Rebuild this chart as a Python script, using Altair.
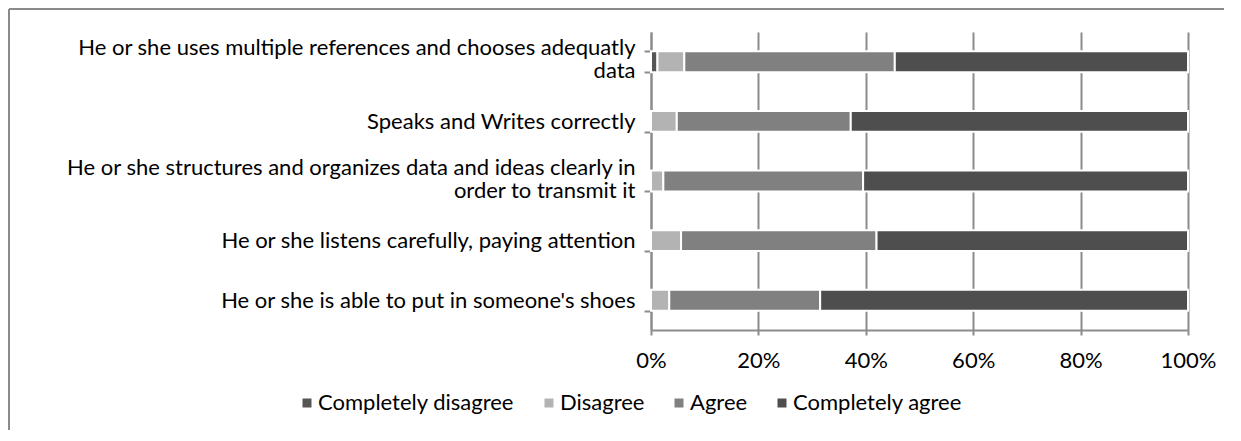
import altair as alt
import pandas as pd

categories = [
    "He or she uses multiple references and chooses adequatly\ndata",
    "Speaks and Writes correctly",
    "He or she structures and organizes data and ideas clearly in\norder to transmit it",
    "He or she listens carefully, paying attention",
    "He or she is able to put in someone's shoes",
]
levels = ["Completely disagree", "Disagree", "Agree", "Completely agree"]
completely_disagree = [1.2, 0.0, 0.0, 0.0, 0.0]
disagree = [5.0, 4.8, 2.3, 5.6, 3.4]
agree = [39.2, 32.4, 37.2, 36.4, 28.1]
completely_agree = [54.6, 62.8, 60.5, 58.0, 68.5]
colors = ["#555555", "#b3b3b3", "#808080", "#4e4e4e"]
x_ticks = [0, 0.2, 0.4, 0.6, 0.8, 1.0]

series = [completely_disagree, disagree, agree, completely_agree]
rows = []
for li, (lvl, vals) in enumerate(zip(levels, series)):
    for cat, v in zip(categories, vals):
        rows.append({"item": cat, "level": lvl, "order": li, "value": v})
df = pd.DataFrame(rows)

W, H = 537, 298
GRID = "#8c8c8c"
FONT = "Lato"
FS = 22

bars = alt.Chart(df).mark_bar(stroke="white", strokeWidth=2).encode(
    y=alt.Y(
        "item:N",
        sort=categories,
        title=None,
        scale=alt.Scale(paddingInner=0.65, paddingOuter=0.325),
        axis=alt.Axis(
            labelExpr="split(datum.label, '\\n')",
            labelFont=FONT,
            labelFontSize=FS,
            labelColor="#000000",
            labelLineHeight=23,
            labelLimit=700,
            labelPadding=9,
            labelOffset={
                "condition": {
                    "test": "indexof('' + datum.value, '\\n') >= 0",
                    "value": -14,
                },
                "value": 0,
            },
            tickBand="extent",
            tickSize=7,
            tickColor=GRID,
            tickWidth=2,
            domainColor=GRID,
            domainWidth=2,
            grid=False,
        ),
    ),
    x=alt.X(
        "value:Q",
        stack="normalize",
        title=None,
        scale=alt.Scale(domain=[0, 1], nice=False),
        axis=alt.Axis(
            values=x_ticks,
            format="%",
            labelFont=FONT,
            labelFontSize=FS,
            labelColor="#000000",
            labelPadding=15,
            labelAlign="center",
            tickSize=5,
            tickColor=GRID,
            tickWidth=2,
            domainColor=GRID,
            domainWidth=2,
            grid=True,
            gridColor=GRID,
            gridWidth=2,
        ),
    ),
    color=alt.Color(
        "level:N",
        sort=levels,
        scale=alt.Scale(domain=levels, range=colors),
        legend=alt.Legend(
            title=None,
            orient="none",
            direction="horizontal",
            legendX=-355,
            legendY=360,
            symbolType="square",
            symbolSize=81,
            symbolStrokeWidth=0,
            labelFont=FONT,
            labelFontSize=FS,
            labelColor="#000000",
            labelOffset=0,
            columnPadding=23,
            labelLimit=400,
        ),
    ),
    order=alt.Order("order:Q", sort="ascending"),
)

frame_left = alt.Chart(alt.Data(values=[{"edge": "left"}])).mark_rule(
    color="#8a8a8a", strokeWidth=2
).encode(x=alt.value(-642), y=alt.value(-23), y2=alt.value(H + 100))
frame_top = alt.Chart(alt.Data(values=[{"edge": "top"}])).mark_rule(
    color="#8a8a8a", strokeWidth=2
).encode(y=alt.value(-23), x=alt.value(-642), x2=alt.value(W + 36))

chart = (
    alt.layer(bars, frame_left, frame_top)
    .properties(
        width=W,
        height=H,
        autosize=alt.AutoSizeParams(type="none"),
        padding={"left": 643, "top": 24, "right": 40, "bottom": 103},
        background="white",
    )
    .configure_view(stroke=None)
)

chart.save("out.html", embed_options={"renderer": "svg", "actions": False})
